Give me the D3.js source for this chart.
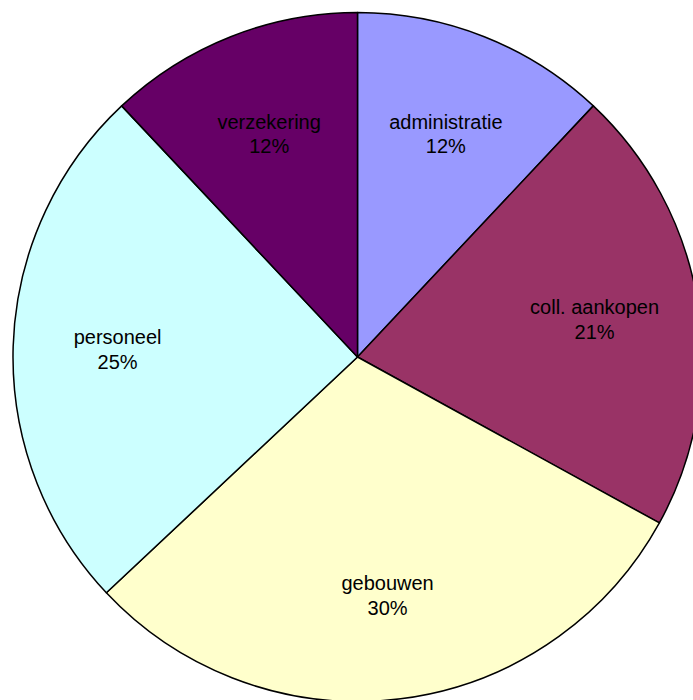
<!DOCTYPE html>
<html>
<head>
<meta charset="utf-8">
<script src="https://cdn.jsdelivr.net/npm/d3@7"></script>
<style>
  html, body { margin: 0; padding: 0; background: #ffffff; }
  svg { display: block; }
</style>
</head>
<body>
<svg id="chart" width="693" height="700"></svg>
<script>
// Cost breakdown, slices in clockwise order from 12 o'clock
const categories = ["administratie", "coll. aankopen", "gebouwen", "personeel", "verzekering"];
const shares = [12, 21, 30, 25, 12];
const sliceColors = ["#9999FF", "#993366", "#FFFFCC", "#CCFFFF", "#660066"];

const width = 693, height = 700;
const cx = 357.5, cy = 357, radius = 344.5;
const labelRadius = 240;
const fontSize = 20, lineGap = 24.5;

const data = categories.map((c, i) => ({ name: c, value: shares[i], color: sliceColors[i] }));

const svg = d3.select("#chart");
const g = svg.append("g").attr("transform", `translate(${cx},${cy})`);

const pie = d3.pie().value(d => d.value).sort(null);
const arcs = pie(data);
const arc = d3.arc().innerRadius(0).outerRadius(radius);
const labelArc = d3.arc().innerRadius(labelRadius).outerRadius(labelRadius);

g.selectAll("path.slice")
  .data(arcs)
  .join("path")
  .attr("class", "slice")
  .attr("d", arc)
  .attr("fill", d => d.data.color)
  .attr("stroke", "#000")
  .attr("stroke-width", 1.5)
  .attr("stroke-linejoin", "round");

const total = d3.sum(shares);
const labels = g.selectAll("text.label")
  .data(arcs)
  .join("text")
  .attr("class", "label")
  .attr("transform", d => `translate(${labelArc.centroid(d)})`)
  .attr("text-anchor", "middle")
  .attr("font-family", "Liberation Sans, Arial, sans-serif")
  .attr("font-size", fontSize)
  .attr("fill", "#000");

labels.append("tspan")
  .attr("x", 0)
  .attr("y", -lineGap / 2 + fontSize * 0.36)
  .text(d => d.data.name);
labels.append("tspan")
  .attr("x", 0)
  .attr("y", lineGap / 2 + fontSize * 0.36)
  .text(d => Math.round(d.data.value / total * 100) + "%");
</script>
</body>
</html>
